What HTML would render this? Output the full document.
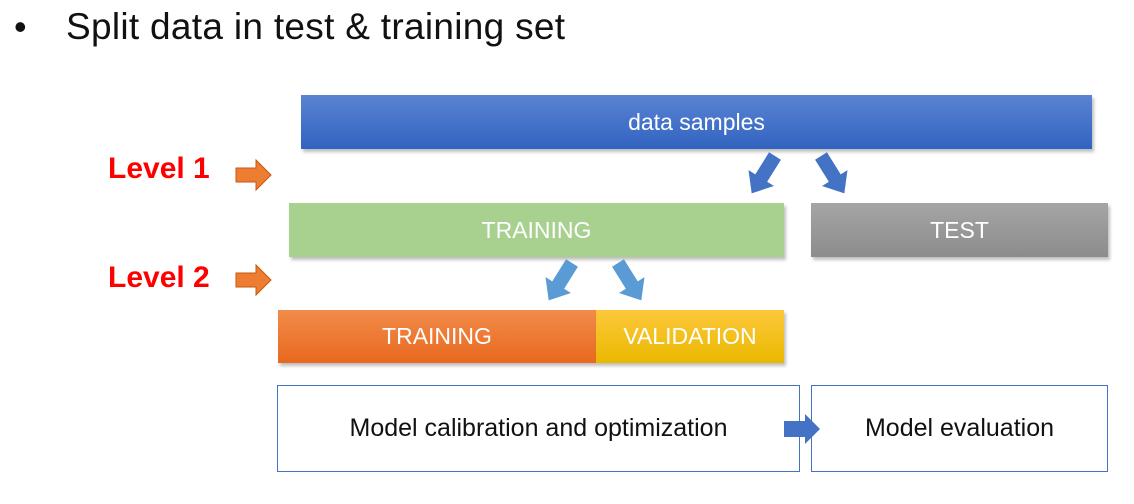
<!DOCTYPE html>
<html><head><style>
body{margin:0;width:1134px;height:504px;background:#fff;position:relative;overflow:hidden;font-family:"Liberation Sans",sans-serif}
.t{position:absolute;display:flex;align-items:center;justify-content:center;color:#fff;font-size:23px;box-shadow:2px 3px 3px rgba(0,0,0,.25)}
.b{position:absolute;border:1.5px solid #4472c4;box-sizing:border-box;display:flex;align-items:center;justify-content:center;font-size:25px;color:#111}
.lv{position:absolute;color:#f00;font-weight:bold;font-size:30px}
</style></head><body>
<div style="position:absolute;left:14px;top:6px;font-size:36px;color:#111">•</div>
<div style="position:absolute;left:66px;top:6px;font-size:37px;color:#111;letter-spacing:0.3px">Split data in test &amp; training set</div>
<div class="t" style="left:301px;top:95px;width:791px;height:54px;background:linear-gradient(#5a84d2,#3163c0)">data samples</div>
<div class="t" style="left:289px;top:203px;width:495px;height:54px;background:#a8d08e">TRAINING</div>
<div class="t" style="left:811px;top:203px;width:297px;height:54px;background:linear-gradient(#a5a5a5,#8c8c8c)">TEST</div>
<div class="t" style="left:278px;top:310px;width:318px;height:53px;background:linear-gradient(#f28b4a,#e8691f)">TRAINING</div>
<div class="t" style="left:596px;top:310px;width:188px;height:53px;background:linear-gradient(#fdc83c,#eab800)">VALIDATION</div>
<div class="b" style="left:277px;top:385px;width:523px;height:87px">Model calibration and optimization</div>
<div class="b" style="left:811px;top:385px;width:297px;height:87px">Model evaluation</div>
<div class="lv" style="left:108px;top:152px">Level 1</div>
<div class="lv" style="left:108px;top:261px">Level 2</div>
<svg width="1134" height="504" style="position:absolute;left:0;top:0">
<defs><polygon id="a" points="-7,0 7,0 7,26 15,26 0,44 -15,26 -7,26"/></defs>
<polygon points="236,168 256,168 256,160 271,175 256,190 256,182 236,182" fill="#ed7d31" stroke="#c55a11" stroke-width="1"/>
<polygon points="236,273 256,273 256,265 271,280 256,295 256,287 236,287" fill="#ed7d31" stroke="#c55a11" stroke-width="1"/>
<use href="#a" transform="translate(775,156) rotate(32)" fill="#4472c4"/>
<use href="#a" transform="translate(821,156) rotate(-32)" fill="#4472c4"/>
<use href="#a" transform="translate(572,263) rotate(32)" fill="#5b9bd5"/>
<use href="#a" transform="translate(618,263) rotate(-32)" fill="#5b9bd5"/>
<polygon points="784,421 805,421 805,414 820,429 805,444 805,437 784,437" fill="#4472c4"/>
</svg>
</body></html>
